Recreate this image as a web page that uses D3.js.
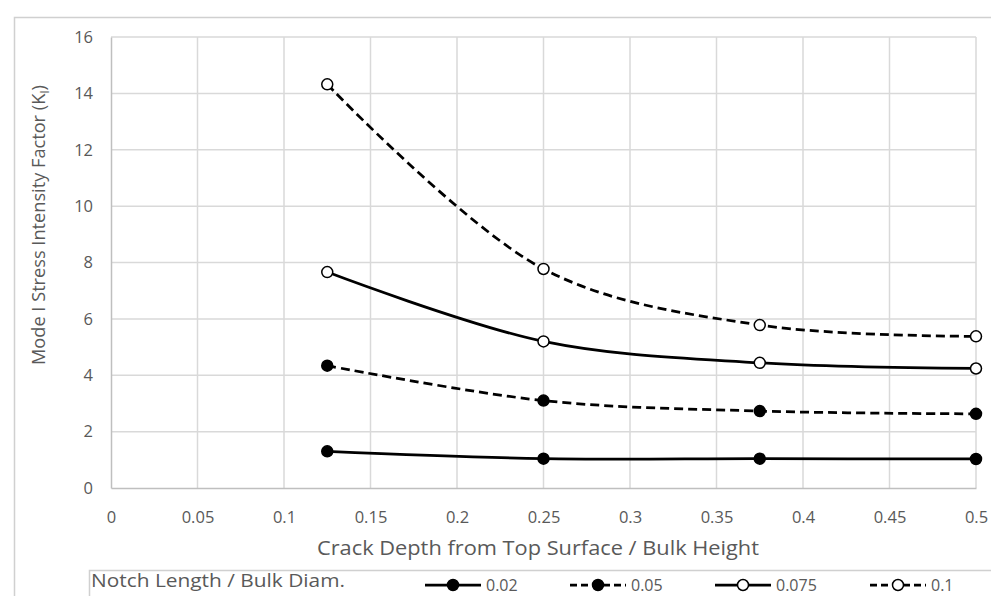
<!DOCTYPE html>
<html>
<head>
<meta charset="utf-8">
<script src="https://cdn.jsdelivr.net/npm/d3@7"></script>
<style>
  body { margin: 0; background: #fff; }
  svg { display: block; }
  text { font-family: "Open Sans", "Liberation Sans", sans-serif; fill: #595959; }
</style>
</head>
<body>
<svg id="chart" width="991" height="596"></svg>
<script>
// crack depth / bulk height
const crackDepth = [0.125, 0.25, 0.375, 0.5];

// K_I for each notch length / bulk diameter
const notch002 = [1.3, 1.04, 1.04, 1.03];
const notch005 = [4.34, 3.1, 2.73, 2.63];
const notch0075 = [7.66, 5.2, 4.44, 4.24];
const notch01 = [14.32, 7.77, 5.78, 5.38];

const seriesNames = ["0.02", "0.05", "0.075", "0.1"];
const xTicks = [0, 0.05, 0.1, 0.15, 0.2, 0.25, 0.3, 0.35, 0.4, 0.45, 0.5];
const yTicks = [0, 2, 4, 6, 8, 10, 12, 14, 16];

// series styling: dashed or solid, filled or hollow markers
var series = [
  { name: seriesNames[0], values: notch002, dashed: false, filled: true },
  { name: seriesNames[1], values: notch005, dashed: true, filled: true },
  { name: seriesNames[2], values: notch0075, dashed: false, filled: false },
  { name: seriesNames[3], values: notch01, dashed: true, filled: false },
];

var margin = { top: 37, left: 111 },
  width = 976 - 111,
  height = 488 - 37;

var svg = d3.select("#chart");

// outer chart frame
svg
  .append("rect")
  .attr("x", 14.5)
  .attr("y", 17.5)
  .attr("width", 1200)
  .attr("height", 800)
  .attr("fill", "none")
  .attr("stroke", "#d0d0d0")
  .attr("stroke-width", 1.5);

var g = svg
  .append("g")
  .attr("transform", "translate(" + margin.left + "," + margin.top + ")");

var x = d3.scaleLinear().domain([0, 0.5]).range([0, width]);
var y = d3.scaleLinear().domain([0, 16]).range([height, 0]);

// grid lines
g.append("g")
  .selectAll("line")
  .data(yTicks.slice(1))
  .enter()
  .append("line")
  .attr("x1", 0)
  .attr("x2", width)
  .attr("y1", (d) => y(d))
  .attr("y2", (d) => y(d))
  .attr("stroke", "#d9d9d9")
  .attr("stroke-width", 1.5);

g.append("g")
  .selectAll("line")
  .data(xTicks.slice(1))
  .enter()
  .append("line")
  .attr("x1", (d) => x(d))
  .attr("x2", (d) => x(d))
  .attr("y1", 0)
  .attr("y2", height)
  .attr("stroke", "#d9d9d9")
  .attr("stroke-width", 1.5);

// axes
var xAxis = g
  .append("g")
  .attr("transform", "translate(0," + height + ")")
  .call(d3.axisBottom(x).tickValues(xTicks).tickSize(0).tickPadding(23).tickFormat((d) => String(d)));
xAxis.select(".domain").attr("stroke", "#bfbfbf").attr("stroke-width", 1.5);
xAxis.selectAll("text").style("font-size", "16.5px").attr("fill", "#595959");

var yAxis = g
  .append("g")
  .call(d3.axisLeft(y).tickValues(yTicks).tickSize(0).tickPadding(18));
yAxis.select(".domain").attr("stroke", "#bfbfbf").attr("stroke-width", 1.5);
yAxis.selectAll("text").style("font-size", "16.5px").attr("fill", "#595959");

// axis titles
svg
  .append("text")
  .attr("x", 317)
  .attr("y", 555)
  .attr("textLength", 442)
  .attr("lengthAdjust", "spacingAndGlyphs")
  .style("font-size", "19.5px")
  .text("Crack Depth from Top Surface / Bulk Height");

var yTitle = svg
  .append("text")
  .attr("transform", "translate(45,225)rotate(-90)")
  .attr("text-anchor", "middle")
  .style("font-size", "18.2px");
yTitle.append("tspan").text("Mode I Stress Intensity Factor (K");
yTitle.append("tspan").attr("dy", 4).style("font-size", "12px").text("I");
yTitle.append("tspan").attr("dy", -4).text(")");

// lines
var line = d3
  .line()
  .x((d, i) => x(crackDepth[i]))
  .y((d) => y(d))
  .curve(d3.curveCatmullRom.alpha(0.5));

series.forEach(function (s) {
  g.append("path")
    .datum(s.values)
    .attr("fill", "none")
    .attr("stroke", "#000")
    .attr("stroke-width", 2.75)
    .attr("stroke-dasharray", s.dashed ? "9,5" : null)
    .attr("d", line);

  g.selectAll(null)
    .data(s.values)
    .enter()
    .append("circle")
    .attr("cx", (d, i) => x(crackDepth[i]))
    .attr("cy", (d) => y(d))
    .attr("r", 5.5)
    .attr("fill", s.filled ? "#000" : "#fff")
    .attr("stroke", "#000")
    .attr("stroke-width", 1.5);
});

// legend box
svg
  .append("rect")
  .attr("x", 89.5)
  .attr("y", 570.5)
  .attr("width", 1000)
  .attr("height", 100)
  .attr("fill", "none")
  .attr("stroke", "#d0d0d0")
  .attr("stroke-width", 1.5);

svg
  .append("text")
  .attr("x", 91)
  .attr("y", 587)
  .attr("textLength", 254)
  .attr("lengthAdjust", "spacingAndGlyphs")
  .style("font-size", "18.7px")
  .text("Notch Length / Bulk Diam.");

var legendX = [425, 570, 715, 870];
var legend = svg
  .selectAll(".legend")
  .data(series)
  .enter()
  .append("g")
  .attr("class", "legend")
  .attr("transform", (d, i) => "translate(" + legendX[i] + ",585)");

legend
  .append("line")
  .attr("x1", 0)
  .attr("x2", 56)
  .attr("stroke", "#000")
  .attr("stroke-width", 2.75)
  .attr("stroke-dasharray", (d) => (d.dashed ? "7,4" : null));

legend
  .append("circle")
  .attr("cx", 28)
  .attr("r", 5.5)
  .attr("fill", (d) => (d.filled ? "#000" : "#fff"))
  .attr("stroke", "#000")
  .attr("stroke-width", 1.5);

legend
  .append("text")
  .attr("x", 61)
  .attr("y", 6)
  .style("font-size", "16px")
  .text((d) => d.name);
</script>
</body>
</html>
